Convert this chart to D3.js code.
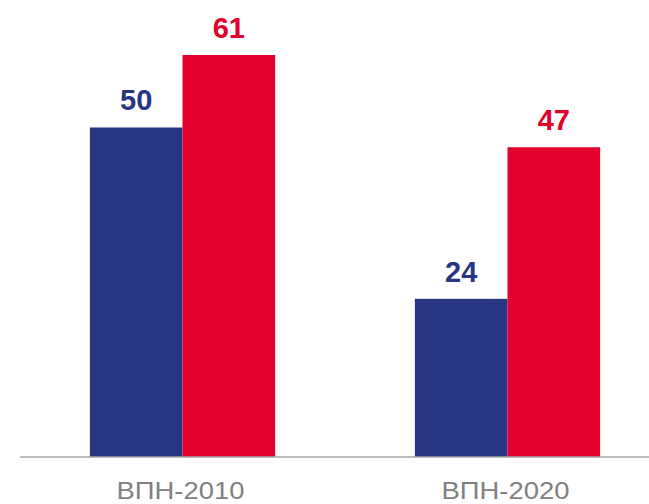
<!DOCTYPE html>
<html>
<head>
<meta charset="utf-8">
<script src="https://cdn.jsdelivr.net/npm/d3@7"></script>
<style>
  body { margin: 0; background: #fff; }
  svg { display: block; font-family: "Liberation Sans", Arial, sans-serif; }
</style>
</head>
<body>
<svg id="chart" width="649" height="504"></svg>
<script>
var categories = ["ВПН-2010", "ВПН-2020"];
var series = ["s1", "s2"];
var s1Values = [50, 24];
var s2Values = [61, 47];
var colours = ["#283582", "#e1002b"];

var svg = d3.select("#chart");

var data = categories.map(function(c, i) {
  return { cat: c, values: [s1Values[i], s2Values[i]] };
});

var x = d3.scaleBand()
    .domain(categories)
    .range([20, 670])
    .paddingInner(0.43)
    .paddingOuter(0.215);

var xs = d3.scaleBand()
    .domain(series)
    .range([0, x.bandwidth()]);

var y = d3.scaleLinear()
    .domain([0, 61])
    .range([457, 55]);

var color = d3.scaleOrdinal().domain(series).range(colours);

var groups = svg.selectAll("g.grp")
    .data(data)
    .enter()
    .append("g")
    .attr("class", "grp")
    .attr("transform", function(d) { return "translate(" + x(d.cat) + ",0)"; });

groups.selectAll("rect")
    .data(function(d) { return d.values.map(function(v, i) { return { key: series[i], v: v }; }); })
    .enter()
    .append("rect")
    .attr("x", function(d) { return xs(d.key); })
    .attr("y", function(d) { return y(d.v); })
    .attr("width", xs.bandwidth())
    .attr("height", function(d) { return y(0) - y(d.v); })
    .style("fill", function(d) { return color(d.key); });

// value labels above bars
groups.selectAll("text.val")
    .data(function(d) { return d.values.map(function(v, i) { return { key: series[i], v: v }; }); })
    .enter()
    .append("text")
    .attr("class", "val")
    .attr("x", function(d) { return xs(d.key) + xs.bandwidth() / 2; })
    .attr("y", function(d) { return y(d.v) - 17; })
    .attr("text-anchor", "middle")
    .style("font-size", "29px")
    .style("font-weight", "bold")
    .style("fill", function(d) { return color(d.key); })
    .text(function(d) { return d.v; });

// baseline
svg.append("line")
    .attr("x1", 20)
    .attr("x2", 649)
    .attr("y1", y(0))
    .attr("y2", y(0))
    .style("stroke", "#a6a6a6")
    .style("stroke-width", 1.5);

// category labels
svg.selectAll("text.cat")
    .data(categories)
    .enter()
    .append("text")
    .attr("class", "cat")
    .attr("x", function(d) { return x(d) + x.bandwidth() / 2 - 2; })
    .attr("y", 499)
    .attr("text-anchor", "middle")
    .attr("textLength", 128)
    .attr("lengthAdjust", "spacingAndGlyphs")
    .style("font-size", "24px")
    .style("fill", "#808080")
    .text(function(d) { return d; });
</script>
</body>
</html>
